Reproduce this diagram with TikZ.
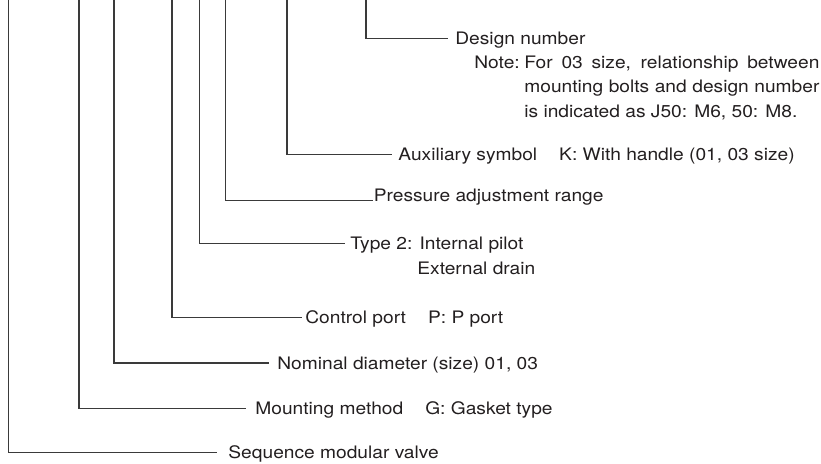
\documentclass[tikz,border=0pt]{standalone}
\usepackage{fontspec}
\setmainfont{TeX Gyre Heros}[FakeStretch=1.115]
\usepackage{xcolor}
\usepackage{tikz}
\usetikzlibrary{positioning}
\definecolor{leadgray}{HTML}{3A3A3A}
\definecolor{txtgray}{HTML}{231F20}
\newcommand{\sepgap}{\hspace{11pt}}
\tikzset{
  lead/.style={draw=leadgray, line width=0.65pt},
  lbl/.style={anchor=base west, inner sep=0pt, text=txtgray},
  notebox/.style={lbl, text width=147.5pt, align=justify}
}

\begin{document}
\begin{tikzpicture}[x=0.5pt, y=-0.5pt, font=\fontsize{8.6pt}{12.25pt}\selectfont]
  \useasboundingbox (0,0) rectangle (821,463);
  % upper ends of the leaders
  \coordinate (t1) at (8.5,0);
  \coordinate (t2) at (79,0);
  \coordinate (t3) at (114,0);
  \coordinate (t4) at (172,0);
  \coordinate (t5) at (199.5,0);
  \coordinate (t6) at (225.5,0);
  \coordinate (t7) at (287,0);
  \coordinate (t8) at (366,0);

  \node[lbl] (design) at (455,44.7) {Design number};
  \node[lbl] (note) at (474,68) {Note:};
  \node[notebox] (notetxt) at (524,68) {For 03 size, relationship between\linebreak mounting bolts and design number\linebreak is indicated as J50: M6, 50: M8.};
  \node[lbl] (aux) at (398,160.5) {Auxiliary symbol\sepgap K: With handle (01, 03 size)};
  \node[lbl] (press) at (373.5,201.5) {Pressure adjustment range};
  \node[lbl] (type) at (350,249.5) {Type 2: Internal pilot};
  \node[lbl] (drain) at (417,274) {External drain};
  \node[lbl] (ctrl) at (305,323.5) {Control port\sepgap P: P port};
  \node[lbl] (size) at (277,369) {Nominal diameter (size) 01, 03};
  \node[lbl] (mount) at (255,414.5) {Mounting method\sepgap G: Gasket type};
  \node[lbl] (seq) at (228,458.3) {Sequence modular valve};

  \draw[lead, shorten >=3.5pt] (t8) |- ([yshift=3pt]design.base west);
  \draw[lead, shorten >=3pt] (t7) |- ([yshift=3pt]aux.base west);
  \draw[lead, shorten >=0.4pt] (t6) |- ([yshift=0.35pt]press.base west);
  \draw[lead, shorten >=2.5pt] (t5) |- ([yshift=3pt]type.base west);
  \draw[lead, shorten >=1.5pt] (t4) |- ([yshift=3pt]ctrl.base west);
  \draw[lead, shorten >=4pt] (t3) |- ([yshift=3pt]size.base west);
  \draw[lead, shorten >=4.5pt] (t2) |- ([yshift=3pt]mount.base west);
  \draw[lead, shorten >=5.5pt] (t1) |- ([yshift=3pt]seq.base west);
\end{tikzpicture}
\end{document}
